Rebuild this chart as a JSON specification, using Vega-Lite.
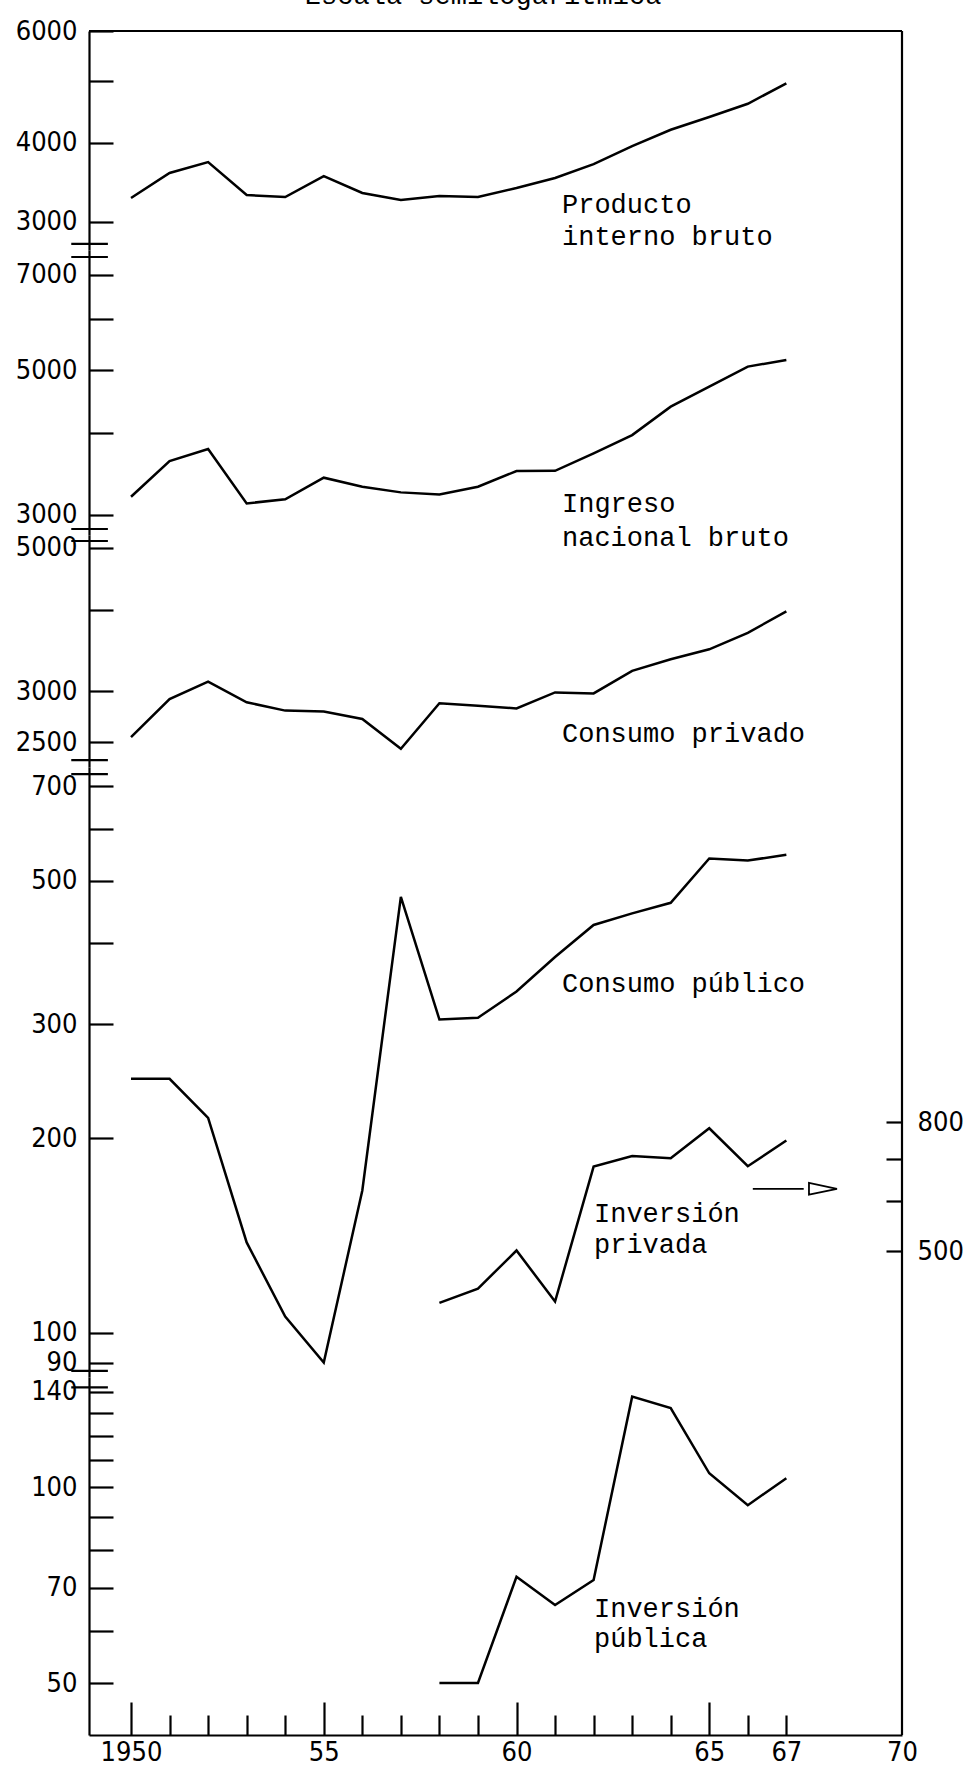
{
  "$schema": "https://vega.github.io/schema/vega-lite/v6.json",
  "autosize": {"type": "none"},
  "padding": {"left": 89, "top": 31, "right": 880, "bottom": 1741},
  "background": "white",
  "bounds": "flush",
  "spacing": 0,
  "config": {
    "view": {"stroke": null},
    "axis": {"grid": false, "domainColor": "#000", "domainWidth": 2.2, "tickColor": "#000", "tickWidth": 2.2, "labelColor": "#000", "labelFont": "DejaVu Sans Condensed, DejaVu Sans", "labelFontSize": 27, "labelOverlap": false, "labelFlush": false, "labelBound": false},
    "line": {"color": "#000", "strokeWidth": 2.5},
    "rule": {"color": "#000", "strokeWidth": 2.2},
    "text": {"font": "Liberation Mono", "fontSize": 27, "color": "#000", "align": "left", "baseline": "alphabetic"}
  },
  "resolve": {"scale": {"x": "independent", "y": "independent"}},
  "datasets": {
    "series": [
      {"series": "PIB", "year": 1950, "value": 3273}, {"series": "PIB", "year": 1951, "value": 3584}, {"series": "PIB", "year": 1952, "value": 3729}, {"series": "PIB", "year": 1953, "value": 3308}, {"series": "PIB", "year": 1954, "value": 3284}, {"series": "PIB", "year": 1955, "value": 3544}, {"series": "PIB", "year": 1956, "value": 3333}, {"series": "PIB", "year": 1957, "value": 3250}, {"series": "PIB", "year": 1958, "value": 3296}, {"series": "PIB", "year": 1959, "value": 3284}, {"series": "PIB", "year": 1960, "value": 3393}, {"series": "PIB", "year": 1961, "value": 3519}, {"series": "PIB", "year": 1962, "value": 3701}, {"series": "PIB", "year": 1963, "value": 3952}, {"series": "PIB", "year": 1964, "value": 4193}, {"series": "PIB", "year": 1965, "value": 4392}, {"series": "PIB", "year": 1966, "value": 4608}, {"series": "PIB", "year": 1967, "value": 4962},
      {"series": "INB", "year": 1950, "value": 3199}, {"series": "INB", "year": 1951, "value": 3629}, {"series": "INB", "year": 1952, "value": 3786}, {"series": "INB", "year": 1953, "value": 3125}, {"series": "INB", "year": 1954, "value": 3170}, {"series": "INB", "year": 1955, "value": 3422}, {"series": "INB", "year": 1956, "value": 3315}, {"series": "INB", "year": 1957, "value": 3249}, {"series": "INB", "year": 1958, "value": 3226}, {"series": "INB", "year": 1959, "value": 3315}, {"series": "INB", "year": 1960, "value": 3503}, {"series": "INB", "year": 1961, "value": 3506}, {"series": "INB", "year": 1962, "value": 3729}, {"series": "INB", "year": 1963, "value": 3977}, {"series": "INB", "year": 1964, "value": 4397}, {"series": "INB", "year": 1965, "value": 4720}, {"series": "INB", "year": 1966, "value": 5065}, {"series": "INB", "year": 1967, "value": 5185},
      {"series": "CPriv", "year": 1950, "value": 2545}, {"series": "CPriv", "year": 1951, "value": 2915}, {"series": "CPriv", "year": 1952, "value": 3104}, {"series": "CPriv", "year": 1953, "value": 2882}, {"series": "CPriv", "year": 1954, "value": 2798}, {"series": "CPriv", "year": 1955, "value": 2788}, {"series": "CPriv", "year": 1956, "value": 2716}, {"series": "CPriv", "year": 1957, "value": 2441}, {"series": "CPriv", "year": 1958, "value": 2872}, {"series": "CPriv", "year": 1959, "value": 2848}, {"series": "CPriv", "year": 1960, "value": 2820}, {"series": "CPriv", "year": 1961, "value": 2986}, {"series": "CPriv", "year": 1962, "value": 2975}, {"series": "CPriv", "year": 1963, "value": 3224}, {"series": "CPriv", "year": 1964, "value": 3360}, {"series": "CPriv", "year": 1965, "value": 3482}, {"series": "CPriv", "year": 1966, "value": 3693}, {"series": "CPriv", "year": 1967, "value": 3987},
      {"series": "CPub", "year": 1950, "value": 247}, {"series": "CPub", "year": 1951, "value": 247}, {"series": "CPub", "year": 1952, "value": 215}, {"series": "CPub", "year": 1953, "value": 138}, {"series": "CPub", "year": 1954, "value": 106}, {"series": "CPub", "year": 1955, "value": 90}, {"series": "CPub", "year": 1956, "value": 166}, {"series": "CPub", "year": 1957, "value": 472}, {"series": "CPub", "year": 1958, "value": 305}, {"series": "CPub", "year": 1959, "value": 307}, {"series": "CPub", "year": 1960, "value": 337}, {"series": "CPub", "year": 1961, "value": 381}, {"series": "CPub", "year": 1962, "value": 427}, {"series": "CPub", "year": 1963, "value": 445}, {"series": "CPub", "year": 1964, "value": 462}, {"series": "CPub", "year": 1965, "value": 541}, {"series": "CPub", "year": 1966, "value": 537}, {"series": "CPub", "year": 1967, "value": 548},
      {"series": "IPriv", "year": 1958, "value": 414}, {"series": "IPriv", "year": 1959, "value": 436}, {"series": "IPriv", "year": 1960, "value": 501}, {"series": "IPriv", "year": 1961, "value": 416}, {"series": "IPriv", "year": 1962, "value": 680}, {"series": "IPriv", "year": 1963, "value": 707}, {"series": "IPriv", "year": 1964, "value": 701}, {"series": "IPriv", "year": 1965, "value": 782}, {"series": "IPriv", "year": 1966, "value": 681}, {"series": "IPriv", "year": 1967, "value": 748},
      {"series": "IPub", "year": 1958, "value": 50}, {"series": "IPub", "year": 1959, "value": 50}, {"series": "IPub", "year": 1960, "value": 72.8}, {"series": "IPub", "year": 1961, "value": 65.9}, {"series": "IPub", "year": 1962, "value": 72}, {"series": "IPub", "year": 1963, "value": 137.7}, {"series": "IPub", "year": 1964, "value": 132.2}, {"series": "IPub", "year": 1965, "value": 105}, {"series": "IPub", "year": 1966, "value": 93.8}, {"series": "IPub", "year": 1967, "value": 103.2}
    ],
    "labels": [
      {"panel": 1, "year": 1954.51, "value": 6616, "label": "Escala semilogarítmica"},
      {"panel": 1, "year": 1961.18, "value": 3101, "label": "Producto"},
      {"panel": 1, "year": 1961.18, "value": 2760, "label": "interno bruto"},
      {"panel": 2, "year": 1961.18, "value": 3032, "label": "Ingreso"},
      {"panel": 2, "year": 1961.18, "value": 2688, "label": "nacional bruto"},
      {"panel": 3, "year": 1961.18, "value": 2503, "label": "Consumo privado"},
      {"panel": 4, "year": 1961.18, "value": 336, "label": "Consumo público"},
      {"panel": 4, "year": 1962.01, "value": 148.4, "label": "Inversión"},
      {"panel": 4, "year": 1962.01, "value": 132.9, "label": "privada"},
      {"panel": 5, "year": 1962.01, "value": 63.1, "label": "Inversión"},
      {"panel": 5, "year": 1962.01, "value": 56.8, "label": "pública"}
    ]
  },
  "vconcat": [
    {
      "width": 813, "height": 219,
      "layer": [
        {"data": {"name": "series"}, "transform": [{"filter": "datum.series == 'PIB'"}], "mark": "line",
         "encoding": {
           "x": {"field": "year", "type": "quantitative", "scale": {"domain": [1948.91, 1970], "nice": false, "zero": false}, "axis": null},
           "y": {"field": "value", "type": "quantitative", "scale": {"type": "log", "domain": [2710, 6000], "nice": false}, "axis": {"title": null, "values": [3000, 4000, 5000, 6000], "format": "d", "labelExpr": "datum.value == 5000 ? '' : datum.label", "tickSize": -24, "labelPadding": 36}}}},
        {"data": {"values": [{}]}, "mark": "rule", "encoding": {"y": {"datum": 6000, "type": "quantitative", "scale": {"type": "log", "domain": [2710, 6000], "nice": false}, "axis": {"title": null, "values": [3000, 4000, 5000, 6000], "format": "d", "labelExpr": "datum.value == 5000 ? '' : datum.label", "tickSize": -24, "labelPadding": 36}}}},
        {"data": {"values": [{}]}, "mark": "rule", "encoding": {"x": {"datum": 1970, "type": "quantitative", "scale": {"domain": [1948.91, 1970], "nice": false, "zero": false}, "axis": null}}},
        {"data": {"values": [{}]}, "mark": "rule", "encoding": {"x": {"datum": 1948.45, "type": "quantitative", "scale": {"domain": [1948.91, 1970], "nice": false, "zero": false}, "axis": null}, "x2": {"datum": 1949.4}, "y": {"datum": 2770, "type": "quantitative", "scale": {"type": "log", "domain": [2710, 6000], "nice": false}, "axis": {"title": null, "values": [3000, 4000, 5000, 6000], "format": "d", "labelExpr": "datum.value == 5000 ? '' : datum.label", "tickSize": -24, "labelPadding": 36}}}},
        {"data": {"name": "labels"}, "transform": [{"filter": "datum.panel == 1"}], "mark": "text",
         "encoding": {"x": {"field": "year", "type": "quantitative", "scale": {"domain": [1948.91, 1970], "nice": false, "zero": false}, "axis": null}, "y": {"field": "value", "type": "quantitative", "scale": {"type": "log", "domain": [2710, 6000], "nice": false}, "axis": {"title": null, "values": [3000, 4000, 5000, 6000], "format": "d", "labelExpr": "datum.value == 5000 ? '' : datum.label", "tickSize": -24, "labelPadding": 36}}, "text": {"field": "label"}}}
      ]
    },
    {
      "width": 813, "height": 285,
      "layer": [
        {"data": {"name": "series"}, "transform": [{"filter": "datum.series == 'INB'"}], "mark": "line",
         "encoding": {
           "x": {"field": "year", "type": "quantitative", "scale": {"domain": [1948.91, 1970], "nice": false, "zero": false}, "axis": null},
           "y": {"field": "value", "type": "quantitative", "scale": {"type": "log", "domain": [2795, 7646], "nice": false}, "axis": {"title": null, "values": [3000, 4000, 5000, 6000, 7000], "format": "d", "labelExpr": "datum.value == 4000 || datum.value == 6000 ? '' : datum.label", "tickSize": -24, "labelPadding": 36}}}},
        {"data": {"values": [{}]}, "mark": "rule", "encoding": {"x": {"datum": 1970, "type": "quantitative", "scale": {"domain": [1948.91, 1970], "nice": false, "zero": false}, "axis": null}}},
        {"data": {"values": [{"v": 7459}, {"v": 2855}]}, "mark": "rule", "encoding": {"x": {"datum": 1948.45, "type": "quantitative", "scale": {"domain": [1948.91, 1970], "nice": false, "zero": false}, "axis": null}, "x2": {"datum": 1949.4}, "y": {"field": "v", "type": "quantitative", "scale": {"type": "log", "domain": [2795, 7646], "nice": false}, "axis": {"title": null, "values": [3000, 4000, 5000, 6000, 7000], "format": "d", "labelExpr": "datum.value == 4000 || datum.value == 6000 ? '' : datum.label", "tickSize": -24, "labelPadding": 36}}}},
        {"data": {"name": "labels"}, "transform": [{"filter": "datum.panel == 2"}], "mark": "text",
         "encoding": {"x": {"field": "year", "type": "quantitative", "scale": {"domain": [1948.91, 1970], "nice": false, "zero": false}, "axis": null}, "y": {"field": "value", "type": "quantitative", "scale": {"type": "log", "domain": [2795, 7646], "nice": false}, "axis": {"title": null, "values": [3000, 4000, 5000, 6000, 7000], "format": "d", "labelExpr": "datum.value == 4000 || datum.value == 6000 ? '' : datum.label", "tickSize": -24, "labelPadding": 36}}, "text": {"field": "label"}}}
      ]
    },
    {
      "width": 813, "height": 232,
      "layer": [
        {"data": {"name": "series"}, "transform": [{"filter": "datum.series == 'CPriv'"}], "mark": "line",
         "encoding": {
           "x": {"field": "year", "type": "quantitative", "scale": {"domain": [1948.91, 1970], "nice": false, "zero": false}, "axis": null},
           "y": {"field": "value", "type": "quantitative", "scale": {"type": "log", "domain": [2288, 5236], "nice": false}, "axis": {"title": null, "values": [2500, 3000, 4000, 5000], "format": "d", "labelExpr": "datum.value == 4000 ? '' : datum.label", "tickSize": -24, "labelPadding": 36}}}},
        {"data": {"values": [{}]}, "mark": "rule", "encoding": {"x": {"datum": 1970, "type": "quantitative", "scale": {"domain": [1948.91, 1970], "nice": false, "zero": false}, "axis": null}}},
        {"data": {"values": [{"v": 5125}, {"v": 2345}]}, "mark": "rule", "encoding": {"x": {"datum": 1948.45, "type": "quantitative", "scale": {"domain": [1948.91, 1970], "nice": false, "zero": false}, "axis": null}, "x2": {"datum": 1949.4}, "y": {"field": "v", "type": "quantitative", "scale": {"type": "log", "domain": [2288, 5236], "nice": false}, "axis": {"title": null, "values": [2500, 3000, 4000, 5000], "format": "d", "labelExpr": "datum.value == 4000 ? '' : datum.label", "tickSize": -24, "labelPadding": 36}}}},
        {"data": {"name": "labels"}, "transform": [{"filter": "datum.panel == 3"}], "mark": "text",
         "encoding": {"x": {"field": "year", "type": "quantitative", "scale": {"domain": [1948.91, 1970], "nice": false, "zero": false}, "axis": null}, "y": {"field": "value", "type": "quantitative", "scale": {"type": "log", "domain": [2288, 5236], "nice": false}, "axis": {"title": null, "values": [2500, 3000, 4000, 5000], "format": "d", "labelExpr": "datum.value == 4000 ? '' : datum.label", "tickSize": -24, "labelPadding": 36}}, "text": {"field": "label"}}}
      ]
    },
    {
      "width": 813, "height": 610,
      "resolve": {"scale": {"y": "independent"}},
      "layer": [
        {
          "layer": [
            {"data": {"name": "series"}, "transform": [{"filter": "datum.series == 'CPub'"}], "mark": "line",
             "encoding": {
               "x": {"field": "year", "type": "quantitative", "scale": {"domain": [1948.91, 1970], "nice": false, "zero": false}, "axis": null},
               "y": {"field": "value", "type": "quantitative", "scale": {"type": "log", "domain": [85.5, 749], "nice": false}, "axis": {"title": null, "orient": "left", "values": [90, 100, 200, 300, 400, 500, 600, 700], "format": "d", "labelExpr": "datum.value == 400 || datum.value == 600 ? '' : datum.label", "tickSize": -24, "labelPadding": 36}}}},
            {"data": {"values": [{}]}, "mark": "rule", "encoding": {"x": {"datum": 1970, "type": "quantitative", "scale": {"domain": [1948.91, 1970], "nice": false, "zero": false}, "axis": null}}},
            {"data": {"values": [{"v": 730.5}, {"v": 87.4}]}, "mark": "rule", "encoding": {"x": {"datum": 1948.45, "type": "quantitative", "scale": {"domain": [1948.91, 1970], "nice": false, "zero": false}, "axis": null}, "x2": {"datum": 1949.4}, "y": {"field": "v", "type": "quantitative", "scale": {"type": "log", "domain": [85.5, 749], "nice": false}, "axis": {"title": null, "orient": "left", "values": [90, 100, 200, 300, 400, 500, 600, 700], "format": "d", "labelExpr": "datum.value == 400 || datum.value == 600 ? '' : datum.label", "tickSize": -24, "labelPadding": 36}}}},
            {"data": {"values": [{"v": 167}]}, "mark": {"type": "rule", "strokeWidth": 1.8}, "encoding": {"x": {"datum": 1966.13, "type": "quantitative", "scale": {"domain": [1948.91, 1970], "nice": false, "zero": false}, "axis": null}, "x2": {"datum": 1967.45}, "y": {"field": "v", "type": "quantitative", "scale": {"type": "log", "domain": [85.5, 749], "nice": false}, "axis": {"title": null, "orient": "left", "values": [90, 100, 200, 300, 400, 500, 600, 700], "format": "d", "labelExpr": "datum.value == 400 || datum.value == 600 ? '' : datum.label", "tickSize": -24, "labelPadding": 36}}}},
            {"data": {"values": [{"v": 167}]}, "mark": {"type": "point", "shape": "M-1,-0.42L1,0L-1,0.42Z", "filled": false, "stroke": "#000", "strokeWidth": 1.8, "size": 784, "opacity": 1}, "encoding": {"x": {"datum": 1967.95, "type": "quantitative", "scale": {"domain": [1948.91, 1970], "nice": false, "zero": false}, "axis": null}, "y": {"field": "v", "type": "quantitative", "scale": {"type": "log", "domain": [85.5, 749], "nice": false}, "axis": {"title": null, "orient": "left", "values": [90, 100, 200, 300, 400, 500, 600, 700], "format": "d", "labelExpr": "datum.value == 400 || datum.value == 600 ? '' : datum.label", "tickSize": -24, "labelPadding": 36}}}},
            {"data": {"name": "labels"}, "transform": [{"filter": "datum.panel == 4"}], "mark": "text",
             "encoding": {"x": {"field": "year", "type": "quantitative", "scale": {"domain": [1948.91, 1970], "nice": false, "zero": false}, "axis": null}, "y": {"field": "value", "type": "quantitative", "scale": {"type": "log", "domain": [85.5, 749], "nice": false}, "axis": {"title": null, "orient": "left", "values": [90, 100, 200, 300, 400, 500, 600, 700], "format": "d", "labelExpr": "datum.value == 400 || datum.value == 600 ? '' : datum.label", "tickSize": -24, "labelPadding": 36}}, "text": {"field": "label"}}}
          ]
        },
        {"data": {"name": "series"}, "transform": [{"filter": "datum.series == 'IPriv'"}], "mark": "line",
         "encoding": {
           "x": {"field": "year", "type": "quantitative", "scale": {"domain": [1948.91, 1970], "nice": false, "zero": false}, "axis": null},
           "y": {"field": "value", "type": "quantitative", "scale": {"type": "log", "domain": [316, 2916], "nice": false}, "axis": {"title": null, "orient": "right", "values": [500, 600, 700, 800], "format": "d", "labelExpr": "datum.value == 600 || datum.value == 700 ? '' : datum.label", "tickSize": -16, "labelPadding": 31, "domain": false}}}}
      ]
    },
    {
      "width": 813, "height": 358,
      "resolve": {"axis": {"x": "independent"}},
      "layer": [
        {"data": {"name": "series"}, "transform": [{"filter": "datum.series == 'IPub'"}], "mark": "line",
         "encoding": {
           "x": {"field": "year", "type": "quantitative", "scale": {"domain": [1948.91, 1970], "nice": false, "zero": false}, "axis": {"title": null, "orient": "bottom", "values": [1950, 1955, 1960, 1965], "labels": false, "tickSize": -33}},
           "y": {"field": "value", "type": "quantitative", "scale": {"type": "log", "domain": [41.6, 147.6], "nice": false}, "axis": {"title": null, "values": [50, 60, 70, 80, 90, 100, 110, 120, 130, 140], "format": "d", "labelExpr": "datum.value == 140 || datum.value == 100 || datum.value == 70 || datum.value == 50 ? datum.label : ''", "tickSize": -24, "labelPadding": 36}}}},
        {"data": {"values": [{}]}, "mark": "rule", "encoding": {"x": {"datum": 1970, "type": "quantitative", "scale": {"domain": [1948.91, 1970], "nice": false, "zero": false}, "axis": {"title": null, "orient": "bottom", "values": [1951, 1952, 1953, 1954, 1956, 1957, 1958, 1959, 1961, 1962, 1963, 1964, 1966, 1967], "labels": false, "domain": false, "tickSize": -20}}}},
        {"data": {"values": [{"v": 142.3}]}, "mark": "rule", "encoding": {"x": {"datum": 1948.45, "type": "quantitative", "scale": {"domain": [1948.91, 1970], "nice": false, "zero": false}, "axis": null}, "x2": {"datum": 1949.4}, "y": {"field": "v", "type": "quantitative", "scale": {"type": "log", "domain": [41.6, 147.6], "nice": false}, "axis": {"title": null, "values": [50, 60, 70, 80, 90, 100, 110, 120, 130, 140], "format": "d", "labelExpr": "datum.value == 140 || datum.value == 100 || datum.value == 70 || datum.value == 50 ? datum.label : ''", "tickSize": -24, "labelPadding": 36}}}},
        {"data": {"name": "labels"}, "transform": [{"filter": "datum.panel == 5"}], "mark": "text",
         "encoding": {"x": {"field": "year", "type": "quantitative", "scale": {"domain": [1948.91, 1970], "nice": false, "zero": false}, "axis": {"title": null, "orient": "bottom", "values": [1950, 1955, 1960, 1965, 1967, 1970], "ticks": false, "domain": false, "labelPadding": 4, "labelExpr": "datum.value == 1950 ? '1950' : toString(datum.value - 1900)", "labelFontSize": 27}}, "y": {"field": "value", "type": "quantitative", "scale": {"type": "log", "domain": [41.6, 147.6], "nice": false}, "axis": {"title": null, "values": [50, 60, 70, 80, 90, 100, 110, 120, 130, 140], "format": "d", "labelExpr": "datum.value == 140 || datum.value == 100 || datum.value == 70 || datum.value == 50 ? datum.label : ''", "tickSize": -24, "labelPadding": 36}}, "text": {"field": "label"}}}
      ]
    }
  ]
}
